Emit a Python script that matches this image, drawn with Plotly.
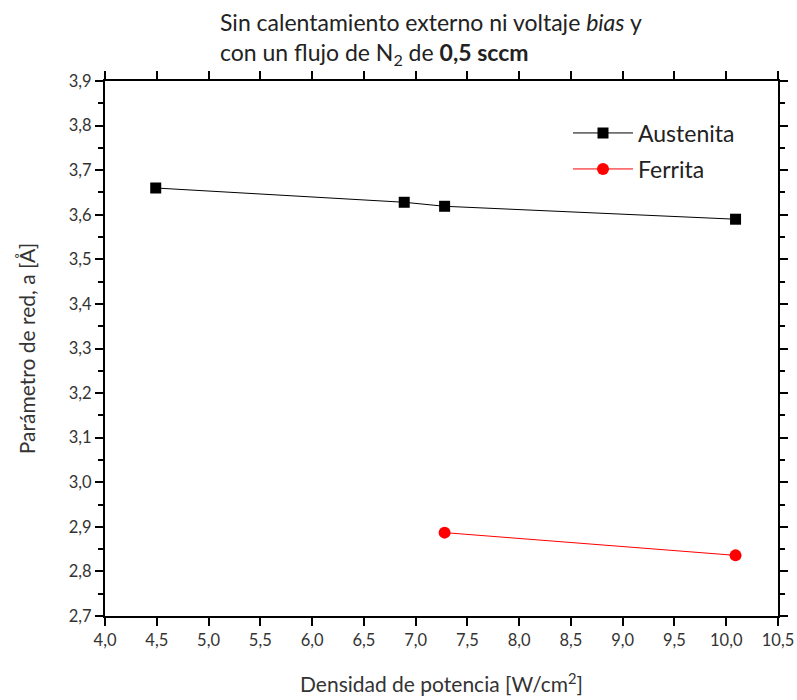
import plotly.graph_objects as go

aus_x = [4.49, 6.89, 7.28, 10.09]
aus_y = [3.660, 3.628, 3.619, 3.590]
fer_x = [7.28, 10.09]
fer_y = [2.887, 2.836]

FONT = "Lato"

fig = go.Figure()
fig.add_trace(go.Scatter(x=aus_x, y=aus_y, mode="lines+markers", name="Austenita",
                         line=dict(color="black", width=1),
                         marker=dict(symbol="square", size=11, color="black"),
                         legend="legend"))
fig.add_trace(go.Scatter(x=fer_x, y=fer_y, mode="lines+markers", name="Ferrita",
                         line=dict(color="red", width=1),
                         marker=dict(symbol="circle", size=12, color="red"),
                         legend="legend2"))

axis_common = dict(showgrid=False, zeroline=False, showline=True, linecolor="black",
                   linewidth=2, mirror="ticks", ticks="outside", ticklen=8, tickwidth=2,
                   tickcolor="black", tickformat=".1f", automargin=False,
                   tickfont=dict(family=FONT, size=16.5, color="#333"),
                   minor=dict(ticks="outside", ticklen=5, tickwidth=2, tickcolor="black", nticks=2))

fig.update_xaxes(range=[4.0, 10.5], dtick=0.5, tick0=4.0,
                 title=dict(text="Densidad de potencia [W/cm<sup>2</sup>]",
                            font=dict(family=FONT, size=21, color="#333"), standoff=29),
                 **axis_common)
fig.update_yaxes(range=[2.7, 3.9], dtick=0.1, tick0=2.7,
                 title=dict(text="Parámetro de red, a [Å]",
                            font=dict(family=FONT, size=21, color="#333"), standoff=27),
                 **axis_common)

fig.add_annotation(xref="paper", yref="paper", x=(218-105)/673, y=1+(81-6)/535,
                   xanchor="left", yanchor="top", align="left", showarrow=False,
                   text="Sin calentamiento externo ni voltaje <i>bias</i> y<br>con un flujo de N<sub>2</sub> de <b>0,5 sccm</b>",
                   font=dict(family=FONT, size=23, color="#222"))

leg_common = dict(xanchor="left", yanchor="middle", bgcolor="rgba(0,0,0,0)",
                  font=dict(family=FONT, size=23, color="#222"), itemwidth=60)
fig.update_layout(width=797, height=700, plot_bgcolor="white", paper_bgcolor="white",
                  separators=",.",
                  margin=dict(l=105, r=19, t=81, b=84),
                  legend=dict(x=(568-105)/673, y=(616-133)/535, **leg_common),
                  legend2=dict(x=(568-105)/673, y=(616-169)/535, **leg_common),
                  showlegend=True)

fig.write_html("out.html")
